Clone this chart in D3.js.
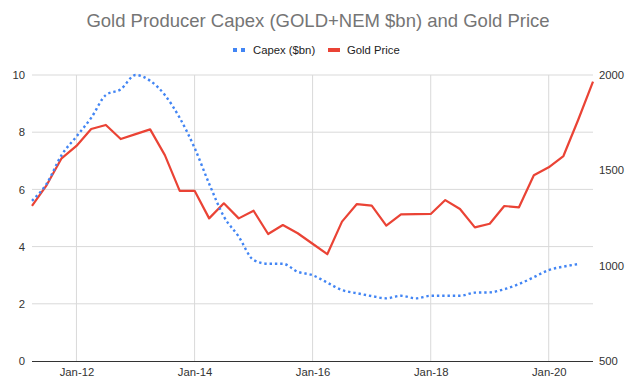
<!DOCTYPE html>
<html>
<head>
<meta charset="utf-8">
<script src="https://cdn.jsdelivr.net/npm/d3@7"></script>
<style>
  body { margin: 0; background: #fff; }
  text { font-family: "Liberation Sans", Arial, sans-serif; }
</style>
</head>
<body>
<svg width="640" height="389"></svg>
<script>
// quarterly observations
const quarters = [
  "2011-04", "2011-07", "2011-10", "2012-01", "2012-04", "2012-07", "2012-10",
  "2013-01", "2013-04", "2013-07", "2013-10", "2014-01", "2014-04", "2014-07",
  "2014-10", "2015-01", "2015-04", "2015-07", "2015-10", "2016-01", "2016-04",
  "2016-07", "2016-10", "2017-01", "2017-04", "2017-07", "2017-10", "2018-01",
  "2018-04", "2018-07", "2018-10", "2019-01", "2019-04", "2019-07", "2019-10",
  "2020-01", "2020-04", "2020-07", "2020-10"
];
const capex = [
  5.6, 6.2, 7.2, 7.85, 8.5, 9.3, 9.5, 10.0, 9.8, 9.3, 8.5,
  7.45, 6.2, 5.05, 4.35, 3.53, 3.4, 3.4, 3.12, 3.0, 2.74,
  2.48, 2.37, 2.27, 2.19, 2.28, 2.19, 2.28, 2.28, 2.28, 2.39,
  2.4, 2.51, 2.69, 2.93, 3.18, 3.3, 3.39
];
const goldPrice = [
  1313, 1423, 1563, 1628, 1717, 1738, 1664, 1690, 1715, 1580, 1392,
  1393, 1248, 1327, 1248, 1288, 1166, 1213, 1170, 1115, 1060,
  1231, 1323, 1315, 1210, 1269, 1270, 1271, 1344, 1297, 1201,
  1220, 1313, 1306, 1474, 1516, 1575, 1764, 1965
];
const xTicks = ["2012-01", "2014-01", "2016-01", "2018-01", "2020-01"];
const xTickLabels = ["Jan-12", "Jan-14", "Jan-16", "Jan-18", "Jan-20"];
const leftTicks = [0, 2, 4, 6, 8, 10];
const rightTicks = [500, 1000, 1500, 2000];

const parse = d3.timeParse("%Y-%m");
const dates = quarters.map(parse);

const svg = d3.select("svg");
const plotL = 32, plotR = 593, plotT = 75, plotB = 361;
const font = "'Liberation Sans', Arial, sans-serif";

const x = d3.scaleTime()
  .domain([parse("2011-04"), parse("2020-10")])
  .range([plotL, plotR]);
const yL = d3.scaleLinear().domain([0, 10]).range([plotB, plotT]);
const yR = d3.scaleLinear().domain([500, 2000]).range([plotB, plotT]);

// title
svg.append("text")
  .attr("x", 318).attr("y", 27)
  .attr("text-anchor", "middle")
  .attr("font-size", 18.5)
  .attr("fill", "#757575")
  .text("Gold Producer Capex (GOLD+NEM $bn) and Gold Price");

// grid
const grid = svg.append("g");
grid.selectAll(".hg").data(leftTicks.slice(1)).enter()
  .append("line")
  .attr("x1", plotL).attr("x2", plotR)
  .attr("y1", d => yL(d)).attr("y2", d => yL(d))
  .attr("stroke", "#d9d9d9").attr("stroke-width", 1);
grid.selectAll(".vg").data(xTicks).enter()
  .append("line")
  .attr("x1", d => x(parse(d))).attr("x2", d => x(parse(d)))
  .attr("y1", plotT).attr("y2", plotB)
  .attr("stroke", "#d9d9d9").attr("stroke-width", 1);

// axes
const yAxisL = d3.axisLeft(yL).tickValues(leftTicks).tickSize(0).tickPadding(7);
svg.append("g").attr("transform", `translate(${plotL},0)`).call(yAxisL)
  .call(g => g.select(".domain").remove())
  .selectAll("text").attr("font-size", 11.3).attr("fill", "#333")
  .style("font-family", font);

const yAxisR = d3.axisRight(yR).tickValues(rightTicks)
  .tickFormat(d3.format("d")).tickSize(0).tickPadding(6);
svg.append("g").attr("transform", `translate(${plotR},0)`).call(yAxisR)
  .call(g => g.select(".domain").remove())
  .selectAll("text").attr("font-size", 11.3).attr("fill", "#333")
  .style("font-family", font);

const xAxis = d3.axisBottom(x)
  .tickValues(xTicks.map(parse))
  .tickFormat((d, i) => xTickLabels[i])
  .tickSize(0).tickPadding(7);
svg.append("g").attr("transform", `translate(0,${plotB})`).call(xAxis)
  .call(g => g.select(".domain").remove())
  .selectAll("text").attr("font-size", 11.3).attr("fill", "#333")
  .style("font-family", font);

svg.append("line")
  .attr("x1", plotL).attr("x2", plotR)
  .attr("y1", plotB + 0.5).attr("y2", plotB + 0.5)
  .attr("stroke", "#333").attr("stroke-width", 1.2);

// lines
const capexLine = d3.line()
  .x((d, i) => x(dates[i]))
  .y(d => yL(d))
  .curve(d3.curveMonotoneX);
const goldLine = d3.line()
  .x((d, i) => x(dates[i]))
  .y(d => yR(d));

svg.append("path").datum(goldPrice)
  .attr("d", goldLine)
  .attr("fill", "none")
  .attr("stroke", "#ea4335")
  .attr("stroke-width", 2.2)
  .attr("stroke-linejoin", "round");

svg.append("path").datum(capex)
  .attr("d", capexLine)
  .attr("fill", "none")
  .attr("stroke", "#4285f4")
  .attr("stroke-width", 2.4)
  .attr("stroke-dasharray", "2.4,2.9");

// legend
const lg = svg.append("g").attr("transform", "translate(0,50)");
lg.append("line")
  .attr("x1", 233).attr("x2", 245).attr("y1", 0).attr("y2", 0)
  .attr("stroke", "#4285f4").attr("stroke-width", 4)
  .attr("stroke-dasharray", "4,4");
lg.append("text").attr("x", 253).attr("y", 4)
  .attr("font-size", 11.3).attr("fill", "#222").text("Capex ($bn)");
lg.append("line")
  .attr("x1", 328).attr("x2", 340).attr("y1", 0).attr("y2", 0)
  .attr("stroke", "#ea4335").attr("stroke-width", 4);
lg.append("text").attr("x", 347).attr("y", 4)
  .attr("font-size", 11.3).attr("fill", "#222").text("Gold Price");
</script>
</body>
</html>
